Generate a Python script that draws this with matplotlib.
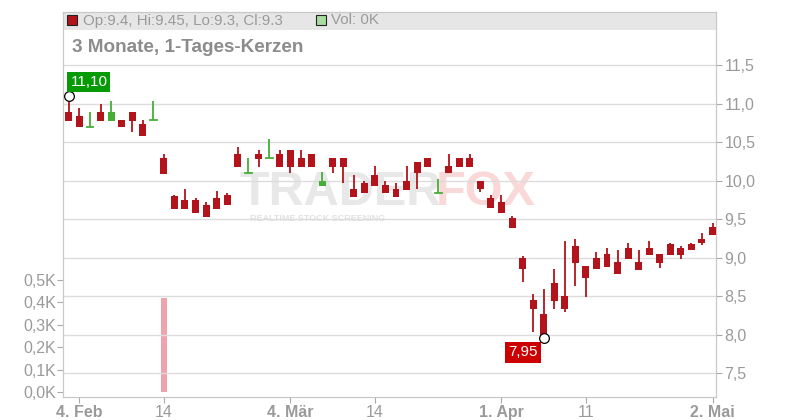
import numpy as np
import matplotlib
matplotlib.use("Agg")
import matplotlib.pyplot as plt
from matplotlib.patches import Rectangle

plt.rcParams['font.family'] = ['Liberation Sans', 'DejaVu Sans']

# trading-day index (-1 = 1. Feb ... 60 = 2. Mai)
days = list(range(-1, 61))

opens = [10.89, 10.84, 10.70, 10.89, 10.77, 10.79, 10.89, 10.73, 10.79, 10.29,
         9.80, 9.75, 9.75, 9.69, 9.77, 9.81, 10.34, 10.10, 10.34, 10.29,
         10.34, 10.40, 10.29, 10.34, 9.93, 10.29, 10.29, 9.89, 9.97, 10.07,
         9.94, 9.89, 9.99, 10.24, 10.29, 9.84, 10.19, 10.29, 10.29, 9.99,
         9.77, 9.72, 9.51, 8.99, 8.45, 8.27, 8.67, 8.50, 9.15, 8.89,
         8.99, 9.05, 8.94, 9.12, 8.94, 9.12, 9.05, 9.18, 9.12, 9.18,
         9.24, 9.40]
highs = [11.10, 10.94, 10.89, 10.99, 11.03, 10.79, 10.89, 10.79, 11.03, 10.34,
         9.81, 9.89, 9.77, 9.72, 9.86, 9.84, 10.44, 10.29, 10.40, 10.54,
         10.40, 10.40, 10.40, 10.34, 10.11, 10.29, 10.29, 10.07, 9.99, 10.19,
         9.99, 9.97, 10.19, 10.24, 10.29, 10.02, 10.34, 10.29, 10.34, 9.99,
         9.81, 9.81, 9.54, 9.02, 8.53, 8.59, 8.85, 9.21, 9.24, 8.89,
         9.07, 9.12, 9.10, 9.19, 9.10, 9.21, 9.05, 9.19, 9.15, 9.19,
         9.32, 9.45]
lows = [10.77, 10.70, 10.70, 10.77, 10.77, 10.70, 10.63, 10.58, 10.79, 10.08,
        9.63, 9.63, 9.58, 9.53, 9.63, 9.68, 10.18, 10.10, 10.18, 10.29,
        10.18, 10.10, 10.18, 10.18, 9.93, 10.10, 9.97, 9.79, 9.84, 9.93,
        9.84, 9.79, 9.88, 9.89, 10.18, 9.84, 10.10, 10.18, 10.18, 9.85,
        9.64, 9.58, 9.38, 8.68, 8.03, 7.95, 8.33, 8.30, 8.63, 8.49,
        8.85, 8.88, 8.79, 8.98, 8.84, 9.03, 8.86, 9.03, 8.98, 9.10,
        9.16, 9.30]
closes = [10.77, 10.70, 10.70, 10.77, 10.89, 10.70, 10.77, 10.58, 10.79, 10.08,
          9.63, 9.63, 9.58, 9.53, 9.63, 9.68, 10.18, 10.10, 10.28, 10.29,
          10.18, 10.18, 10.18, 10.18, 9.99, 10.18, 10.18, 9.79, 9.84, 9.93,
          9.84, 9.79, 9.88, 10.10, 10.18, 9.84, 10.10, 10.18, 10.18, 9.89,
          9.64, 9.58, 9.38, 8.85, 8.33, 7.98, 8.44, 8.33, 8.93, 8.73,
          8.85, 8.88, 8.79, 8.98, 8.84, 9.03, 8.93, 9.03, 9.03, 9.10,
          9.19, 9.30]
green_days = [1, 3, 7, 16, 18, 23, 34]

volume = [0, 0, 0, 0, 0, 0, 0, 0, 0, 0.42,
          0, 0, 0, 0, 0, 0, 0, 0, 0, 0,
          0, 0, 0, 0, 0, 0, 0, 0, 0, 0,
          0, 0, 0, 0, 0, 0, 0, 0, 0, 0,
          0, 0, 0, 0, 0, 0, 0, 0, 0, 0,
          0, 0, 0, 0, 0, 0, 0, 0, 0, 0,
          0, 0]

tick_days = [0, 8, 20, 28, 40, 48, 60]
tick_labels = ["4. Feb", "14", "4. Mär", "14", "1. Apr", "11", "2. Mai"]
bold_labels = ["4. Feb", "4. Mär", "1. Apr", "2. Mai"]

price_ticks = [7.5, 8.0, 8.5, 9.0, 9.5, 10.0, 10.5, 11.0, 11.5]
vol_ticks = [0.0, 0.1, 0.2, 0.3, 0.4, 0.5]

RED = "#b3141b"
GREEN = "#46ae36"
GREY = "#9a9a9a"

fig = plt.figure(figsize=(8, 4.2), dpi=100)
ax = fig.add_axes([63 / 800, 1 - 397 / 420, (716 - 63) / 800, (397 - 12) / 420])
axv = ax.twinx()
ax.set_zorder(axv.get_zorder() + 1)
ax.patch.set_visible(False)

# volume (left axis) - vertical grid lives here so the bar sits on top of it
axv.bar(days, volume, width=0.62, color="#f0a3ac", zorder=2)
axv.set_ylim(-0.022, 1.689)
axv.yaxis.tick_left()
axv.set_yticks(vol_ticks)
axv.set_yticklabels([("%.1fK" % v).replace(".", ",") for v in vol_ticks])
axv.tick_params(axis="y", colors="#aaaaaa", labelcolor=GREY, labelsize=11.5, length=4, pad=1)

# candles
bw = 0.66
for i, d in enumerate(days):
    o, h, l, c = opens[i], highs[i], lows[i], closes[i]
    col = GREEN if d in green_days else RED
    ax.plot([d, d], [l, h], color=col, lw=1.3, zorder=3, solid_capstyle="butt")
    lo, hi = min(o, c), max(o, c)
    if hi - lo < 0.005:
        ax.plot([d - bw / 2, d + bw / 2], [o, o], color=col, lw=1.3, zorder=3)
    else:
        ax.add_patch(Rectangle((d - bw / 2, lo), bw, hi - lo, color=col, lw=0, zorder=3))

# max / min markers
imax = int(np.argmax(highs))
imin = int(np.argmin(lows))
ax.plot(days[imax], highs[imax], "o", ms=7, mfc="white", mec="black", mew=0.9, zorder=5)
ax.plot(days[imin], lows[imin], "o", ms=7, mfc="white", mec="black", mew=0.9, zorder=5)
ax.annotate(("%.2f" % highs[imax]).replace(".", ","), (days[imax], highs[imax]),
            xytext=(20, 14), textcoords="offset pixels", ha="center", va="center",
            color="white", fontsize=11,
            bbox=dict(boxstyle="square,pad=0.2", fc="#079a07", ec="none"), zorder=6)
ax.annotate(("%.2f" % lows[imin]).replace(".", ","), (days[imin], lows[imin]),
            xytext=(-21, -14), textcoords="offset pixels", ha="center", va="center",
            color="white", fontsize=11,
            bbox=dict(boxstyle="square,pad=0.2", fc="#cc0000", ec="none"), zorder=6)

ax.set_xlim(-1.56, 60.33)
axv.set_xlim(-1.56, 60.33)
ax.set_ylim(7.19, 12.19)
ax.yaxis.tick_right()
ax.set_yticks(price_ticks)
ax.set_yticklabels([("%.1f" % p).replace(".", ",") for p in price_ticks])
ax.set_xticks(tick_days)
ax.set_xticklabels(tick_labels)
for t in ax.get_xticklabels():
    if t.get_text() in bold_labels:
        t.set_fontweight("bold")
ax.tick_params(axis="y", colors="#aaaaaa", labelcolor=GREY, labelsize=11.5, length=4, pad=2)
ax.tick_params(axis="x", colors="#aaaaaa", labelcolor=GREY, labelsize=11.5, length=4, pad=2)
axv.tick_params(axis="x", length=0)
ax.grid(True, axis="y", color="#dcdcdc", lw=1.0)
axv.set_axisbelow(True)
axv.grid(True, axis="x", color="#dcdcdc", lw=1.0)
for a in (ax, axv):
    for s in a.spines.values():
        s.set_color("#c8c8c8")

# header band
axv.add_patch(Rectangle((0, 1 - 18 / 385), 1, 18 / 385, transform=axv.transAxes,
                        fc="#e6e6e6", ec="none", zorder=0.1))
fig.patches.append(Rectangle((67 / 800, 1 - 25 / 420), 10 / 800, 10 / 420,
                             transform=fig.transFigure, fc=RED, ec="#222222", lw=0.8))
fig.patches.append(Rectangle((316 / 800, 1 - 25 / 420), 10 / 800, 10 / 420,
                             transform=fig.transFigure, fc="#a8dca0", ec="#222222", lw=0.8))
fig.text(83 / 800, 1 - 20.5 / 420, "Op:9.4, Hi:9.45, Lo:9.3, Cl:9.3", color=GREY,
         fontsize=10.9, va="center")
fig.text(331 / 800, 1 - 20.5 / 420, "Vol: 0K", color=GREY, fontsize=10.9, va="center")
fig.text(72 / 800, 1 - 47 / 420, "3 Monate, 1-Tages-Kerzen", color="#8c8c8c",
         fontsize=13.6, fontweight="bold", va="center")

# watermark
fig.text(240 / 800, 1 - 205 / 420, "TRADER", color="#e8e8e8", fontsize=35,
         fontweight="bold", va="baseline", zorder=0)
fig.text(436 / 800, 1 - 205 / 420, "FOX", color="#fbd8d8", fontsize=35,
         fontweight="bold", va="baseline", zorder=0)
fig.text(250 / 800, 1 - 218 / 420, "REALTIME STOCK SCREENING", color="#e2e2e2",
         fontsize=6.5, fontweight="bold", va="center", zorder=0)

fig.savefig("out.png", dpi=100)
